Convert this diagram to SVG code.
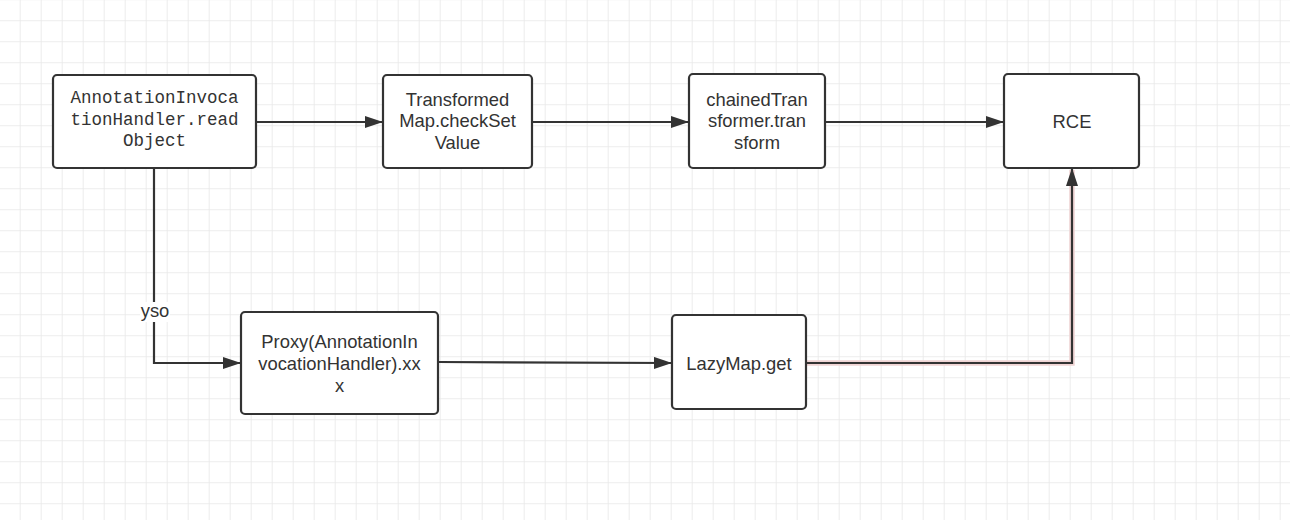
<svg xmlns="http://www.w3.org/2000/svg" width="1290" height="520" viewBox="0 0 1290 520">
<defs>
<pattern id="grid" x="-0.3" y="0.2" width="21" height="21" patternUnits="userSpaceOnUse">
<path d="M 21 0 V 21 M 0 21 H 21" fill="none" stroke="#e8e8e8" stroke-width="1.6"/>
</pattern>
<marker id="arr" markerWidth="18" markerHeight="12" refX="17" refY="6" orient="auto" markerUnits="userSpaceOnUse">
<path d="M0,0 L18,6 L0,12 Z" fill="#333333"/>
</marker>
</defs>
<style>
.box{fill:#ffffff;stroke:#333333;stroke-width:2.2}
.t{font-family:"Liberation Sans",Arial,sans-serif;font-size:18.4px;fill:#333333;text-anchor:middle}
.m{font-family:"Liberation Mono","Courier New",monospace;font-size:17.5px;fill:#333333;text-anchor:middle}
.c{fill:none;stroke:#333333;stroke-width:2.2}
</style>
<rect width="1290" height="520" fill="#ffffff"/>
<rect width="1290" height="520" fill="url(#grid)"/>
<g id="connectors">
<path class="c" d="M256,122 L382,122" marker-end="url(#arr)"/>
<path class="c" d="M532,122 L688,122" marker-end="url(#arr)"/>
<path class="c" d="M825,122 L1003,122" marker-end="url(#arr)"/>
<path class="c" d="M154,168 L154,363 L240,363" marker-end="url(#arr)"/>
<path class="c" d="M438,362 L671,363" marker-end="url(#arr)"/>
<path d="M806,363 L1072,363 L1072,170" fill="none" stroke="#f0d4d4" stroke-width="5.5"/>
<path class="c" d="M806,363 L1072,363 L1072,169" marker-end="url(#arr)"/>
<rect x="140" y="302" width="30" height="20" fill="#ffffff"/>
<text class="t" x="155" y="317">yso</text>
</g>
<g id="readObject">
<rect class="box" x="53" y="75" width="203" height="93" rx="4"/>
<text class="m" x="154.5" y="103.3">AnnotationInvoca</text>
<text class="m" x="154.5" y="124.8">tionHandler.read</text>
<text class="m" x="154.5" y="146.3">Object</text>
</g>
<g id="transformedMap">
<rect class="box" x="383" y="75" width="149" height="93" rx="4"/>
<text class="t" x="457.5" y="105.6">Transformed</text>
<text class="t" x="457.5" y="127.2">Map.checkSet</text>
<text class="t" x="457.5" y="148.8">Value</text>
</g>
<g id="chainedTransformer">
<rect class="box" x="689" y="74" width="136" height="94" rx="4"/>
<text class="t" x="757" y="105.6">chainedTran</text>
<text class="t" x="757" y="127.2">sformer.tran</text>
<text class="t" x="757" y="148.8">sform</text>
</g>
<g id="rce">
<rect class="box" x="1004" y="74" width="135" height="94" rx="4"/>
<text class="t" x="1072" y="128">RCE</text>
</g>
<g id="proxy">
<rect class="box" x="241" y="312" width="197" height="102" rx="4"/>
<text class="t" x="339.5" y="348.3">Proxy(AnnotationIn</text>
<text class="t" x="339.5" y="370">vocationHandler).xx</text>
<text class="t" x="339.5" y="391.7">x</text>
</g>
<g id="lazyMap">
<rect class="box" x="672" y="315" width="134" height="94" rx="4"/>
<text class="t" x="739" y="370">LazyMap.get</text>
</g>
</svg>
